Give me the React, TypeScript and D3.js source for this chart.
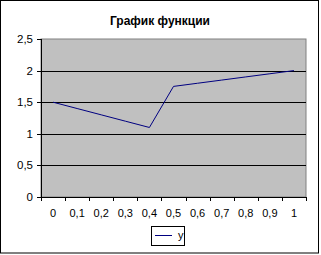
import React from "react";
import * as d3 from "d3";

const categories = ["0", "0,1", "0,2", "0,3", "0,4", "0,5", "0,6", "0,7", "0,8", "0,9", "1"];
const yValues = [1.5, 1.4, 1.3, 1.2, 1.1, 1.75, 1.8, 1.85, 1.9, 1.95, 2.0];
const yTicks = [0, 0.5, 1, 1.5, 2, 2.5];
const yTickLabels = ["0", "0,5", "1", "1,5", "2", "2,5"];
const title = "График функции";
const seriesName = "y";

export default function App() {
  const W = 321, H = 255;
  const left = 41, right = 306, top = 39, bottom = 197;
  const font = "Arial, 'Liberation Sans', sans-serif";
  const x = d3.scaleBand<string>().domain(categories).range([left, right]).padding(0);
  const y = d3.scaleLinear().domain([0, 2.5]).range([bottom, top]);
  const line = d3
    .line<number>()
    .x((_, i) => (x(categories[i]) as number) + x.bandwidth() / 2)
    .y((d) => y(d));
  const tickXs = categories.map((c) => x(c) as number).concat([right]);
  return (
    <svg
      width={W}
      height={H}
      style={{ position: "absolute", left: 0, top: 0, display: "block" }}
    >
      <rect x={0} y={0} width={W} height={H} fill="#fff" />
      <rect x={0.5} y={0.5} width={318} height={252.5} fill="none" stroke="#000" strokeWidth={1} />
      <text x={160} y={25} textAnchor="middle" fontFamily={font} fontWeight="bold" fontSize={12}>
        {title}
      </text>
      <rect x={left} y={top} width={right - left} height={bottom - top} fill="#c0c0c0" stroke="#808080" strokeWidth={1} />
      {yTicks.slice(1, -1).map((t) => (
        <line key={t} x1={left} x2={right} y1={Math.round(y(t)) + 0.5} y2={Math.round(y(t)) + 0.5} stroke="#000" />
      ))}
      <line x1={left + 0.5} x2={left + 0.5} y1={top} y2={bottom} stroke="#000" />
      <line x1={left} x2={right} y1={bottom + 0.5} y2={bottom + 0.5} stroke="#000" />
      {yTicks.map((t, i) => (
        <g key={"yt" + t}>
          <line x1={left - 4} x2={left} y1={Math.round(y(t)) + 0.5} y2={Math.round(y(t)) + 0.5} stroke="#000" />
          <text x={33} y={y(t) + 4} textAnchor="end" fontFamily={font} fontSize={11.5}>
            {yTickLabels[i]}
          </text>
        </g>
      ))}
      {tickXs.map((tx, i) => (
        <line key={"xt" + i} x1={Math.round(tx) + 0.5} x2={Math.round(tx) + 0.5} y1={bottom} y2={bottom + 4} stroke="#000" />
      ))}
      {categories.map((c) => (
        <text
          key={"xl" + c}
          x={(x(c) as number) + x.bandwidth() / 2}
          y={217}
          textAnchor="middle"
          fontFamily={font}
          fontSize={11}
        >
          {c}
        </text>
      ))}
      <path d={line(yValues) || ""} fill="none" stroke="#000080" strokeWidth={1} />
      <rect x={151.5} y={226.5} width={33} height={19} fill="#fff" stroke="#000" />
      <line x1={155} x2={172} y1={235.5} y2={235.5} stroke="#000080" />
      <text x={178} y={239} fontFamily={font} fontSize={11}>
        {seriesName}
      </text>
    </svg>
  );
}
